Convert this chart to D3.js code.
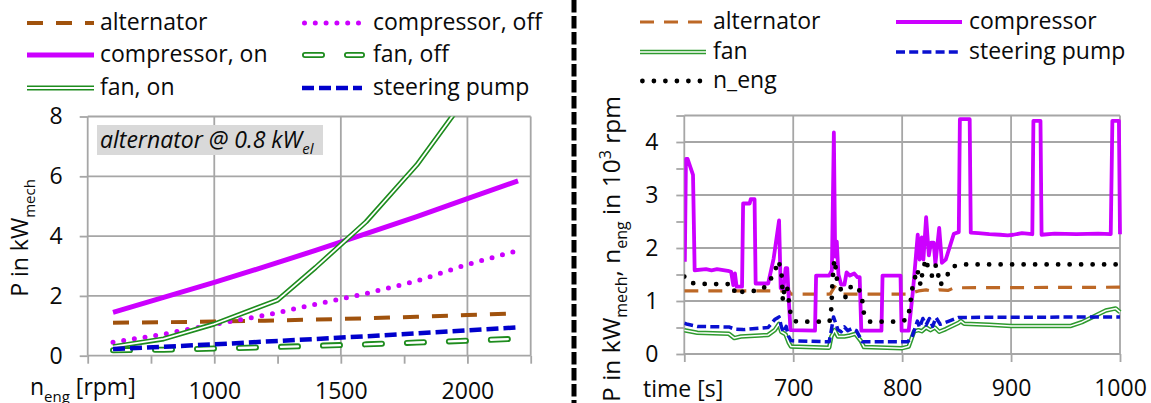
<!DOCTYPE html>
<html><head><meta charset="utf-8">
<script src="https://cdn.jsdelivr.net/npm/d3@7"></script>
<style>html,body{margin:0;padding:0;background:#fff;} svg{display:block;font-family:'Open Sans',sans-serif;}</style>
</head><body><svg id="c" width="1151" height="403"></svg>
<script>
// ---------- Left chart data (power vs engine speed) ----------
const rpm = [600,800,1000,1200,1400,1600,1800,2000,2200];
const alternatorL = [1.10,1.12,1.14,1.17,1.21,1.25,1.30,1.36,1.42];
const compressorOff = [0.45,0.72,1.05,1.35,1.72,2.08,2.50,3.05,3.52];
const compressorOn = [1.45,1.95,2.45,2.98,3.52,4.08,4.65,5.25,5.85];
const fanOff = [0.18,0.20,0.24,0.28,0.33,0.38,0.44,0.50,0.57];
const fanOnRpm = [600,800,1000,1250,1400,1600,1800,2000];
const fanOn = [0.30,0.56,1.06,1.86,2.95,4.48,6.38,8.70];
const steeringL = [0.22,0.30,0.38,0.47,0.56,0.65,0.75,0.85,0.95];
const rpmTickValues = [500,750,1000,1250,1500,1750,2000,2250];
const rpmTickLabels = [1000,1500,2000];
const powerTicks = [0,2,4,6,8];

// ---------- Right chart data (time series) ----------
const alternatorT = [[600,1.19],[696,1.19],[698,1.13],[734,1.13],[736,1.2],[738,1.27],[741,1.22],[744,1.18],[746,1.13],[806,1.13],[810,1.16],[815,1.19],[822,1.21],[828,1.18],[834,1.21],[842,1.2],[848,1.25],[1000,1.26]];
const compressorT = [[600.5,1.74],[601.5,3.68],[603,3.68],[608,3.38],[609.5,1.58],[620,1.6],[625,1.58],[630,1.6],[640,1.57],[643,1.55],[645,1.3],[646.5,1.52],[648,1.27],[653,1.27],[654,2.84],[660,2.84],[661,2.92],[664.5,2.92],[665.5,1.33],[677,1.33],[682,1.8],[687,2.52],[688.5,1.24],[691,1.22],[693,1.62],[694.5,1.62],[696,0.99],[697.5,0.45],[720,0.44],[721,1.48],[733,1.48],[735.5,1.58],[737.3,4.18],[738.5,1.84],[740,2.12],[741.5,1.5],[744,1.31],[747,1.31],[749,1.54],[752,1.48],[756,1.52],[759,1.45],[761,1.45],[762.5,0.44],[781,0.44],[782,1.48],[798.5,1.48],[799.5,0.44],[806,0.44],[810,1.21],[814.3,2.25],[816,1.78],[818,2.2],[819.5,1.78],[822,2.58],[824.5,1.86],[826.5,2.1],[829,2.1],[830.5,1.7],[834,2.38],[836.5,1.72],[840,1.78],[847.5,2.27],[852,2.3],[853,4.43],[862,4.43],[863,2.29],[870,2.28],[880,2.26],[890,2.25],[897,2.24],[902,2.25],[910,2.28],[919.5,2.26],[920.5,4.4],[927,4.4],[928,2.25],[940,2.27],[960,2.26],[980,2.27],[991.5,2.26],[993,4.4],[999,4.4],[1000,2.26]];
const fanT = [[600,0.45],[612,0.4],[641,0.38],[646,0.3],[652,0.33],[677,0.36],[683,0.45],[687,0.57],[689,0.42],[693,0.37],[696,0.21],[698,0.14],[733,0.12],[735,0.33],[738,0.45],[741,0.33],[747,0.33],[752,0.35],[757,0.38],[762,0.25],[765,0.13],[800,0.11],[806,0.14],[811,0.43],[815,0.45],[818,0.43],[822,0.5],[826,0.45],[830,0.5],[834,0.42],[840,0.47],[852,0.59],[854,0.62],[857,0.57],[880,0.55],[900,0.53],[955,0.53],[965,0.6],[975,0.7],[987,0.82],[996,0.86],[1000,0.79]];
const steeringT = [[600,0.58],[603,0.56],[612,0.52],[641,0.51],[646,0.47],[654,0.46],[677,0.5],[683,0.65],[687,0.7],[689,0.52],[691,0.41],[693.5,0.52],[695.5,0.34],[698,0.25],[733,0.23],[735,0.45],[737,0.7],[739,0.58],[741,0.46],[744,0.42],[747,0.51],[750,0.44],[754,0.48],[758,0.44],[763.5,0.23],[805,0.23],[809,0.32],[814,0.62],[816,0.5],[819,0.67],[822,0.55],[825,0.67],[828,0.52],[831,0.69],[835,0.56],[843,0.62],[852,0.69],[1000,0.7]];
const nEngT = [[600,1.46],[606,1.34],[620,1.32],[640,1.32],[645,1.17],[648,1.25],[651,1.17],[670,1.2],[676,1.3],[683,1.54],[686,1.76],[688,1.66],[689.5,1.46],[690.5,1.0],[691.5,1.17],[693,1.3],[694.5,1.25],[696,0.99],[697.5,0.77],[700.5,0.64],[703,0.61],[733,0.61],[734,0.65],[735,0.87],[736,1.34],[737,1.62],[737.8,1.78],[739,1.62],[740,1.43],[741,1.3],[744,1.21],[747.5,1.05],[751,1.24],[756,1.3],[762,1.17],[763.5,0.99],[765,0.75],[770,0.61],[799,0.61],[805,0.66],[807,0.87],[809.6,1.28],[812.6,1.5],[814,1.6],[815.5,1.41],[817,1.3],[819,1.6],[822,1.79],[824,1.6],[827.5,1.47],[831,1.68],[833,1.5],[835,1.3],[840.6,1.46],[846,1.65],[856,1.69],[1000,1.69]];
const timeTicks = [600,700,800,900,1000];
const timeTickLabels = [700,800,900,1000];
const rightYTicks = [0,0.5,1,1.5,2,2.5,3,3.5,4,4.5];
const rightYGrid = [0,1,2,3,4,4.5];

// ---------- styles ----------
const GRID = "#a6a6a6";
const FONT = 23;
const INK = "#0a0a0a";
const stL = {
  alternator: {color:"#a0520d", width:4, dash:"16 13"},
  compOff: {color:"#cc00ff", width:5, dash:"0 10.8", cap:"round"},
  compOn: {color:"#cc00ff", width:5},
  fanOff: {color:"#1e8c1e", width:6, dash:"17 25", cap:"round", inner:2.4},
  fanOn: {color:"#1e8c1e", width:5, inner:1.8},
  steering: {color:"#0000cc", width:4.5, dash:"12 5"}
};
const stR = {
  alternator: {color:"#bd6826", width:3.2, dash:"14 10"},
  compressor: {color:"#cc00ff", width:3.8},
  fan: {color:"#2e9a2e", width:4.5, inner:1.5},
  steering: {color:"#0a10d0", width:3.5, dash:"9 4.2"},
  nEng: {color:"#000", width:4.8, dash:"0 11.5", cap:"round"}
};

const svg = d3.select("#c");

function styled(g, d, s) {
  g.append("path").attr("d", d).attr("fill","none")
    .attr("stroke", s.color).attr("stroke-width", s.width)
    .attr("stroke-dasharray", s.dash || null)
    .attr("stroke-linecap", s.cap || "butt")
    .attr("stroke-linejoin", "round");
  if (s.inner) {
    g.append("path").attr("d", d).attr("fill","none")
      .attr("stroke", "#fff").attr("stroke-width", s.inner)
      .attr("stroke-dasharray", s.dash || null)
      .attr("stroke-linecap", s.cap || "butt")
      .attr("stroke-linejoin", "round");
  }
}

// ================= LEFT CHART =================
const xL = d3.scaleLinear().domain([500,2250]).range([87.7,530.7]);
const yL = d3.scaleLinear().domain([0,8]).range([355.7,116.5]);

const gL = svg.append("g");
gL.append("g").selectAll("line").data(powerTicks).join("line")
  .attr("x1", xL(500)).attr("x2", xL(2250)).attr("y1", d=>yL(d)).attr("y2", d=>yL(d))
  .attr("stroke", GRID).attr("stroke-width", 1.8);
gL.append("g").selectAll("line").data([500,1000,1500,2000,2250]).join("line")
  .attr("x1", d=>xL(d)).attr("x2", d=>xL(d)).attr("y1", yL(0)).attr("y2", yL(8))
  .attr("stroke", GRID).attr("stroke-width", 1.8);

const axBL = gL.append("g").attr("transform", `translate(0,${yL(0)})`)
  .call(d3.axisBottom(xL).tickValues(rpmTickValues).tickSize(8).tickPadding(19)
    .tickFormat(d => rpmTickLabels.includes(d) ? d : ""));
const axLL = gL.append("g").attr("transform", `translate(${xL(500)},0)`)
  .call(d3.axisLeft(yL).tickValues(powerTicks).tickSize(8).tickPadding(17).tickFormat(d3.format("d")));
[axBL, axLL].forEach(a => {
  a.select(".domain").remove();
  a.selectAll(".tick line").attr("stroke", GRID).attr("stroke-width", 1.8);
  a.selectAll(".tick text").attr("font-size", FONT).attr("font-family", "'Open Sans',sans-serif").attr("fill", INK);
});

gL.append("rect").attr("x", 97).attr("y", 125).attr("width", 226).attr("height", 30).attr("fill", "#d9d9d9");
const ann = gL.append("text").attr("x", 100).attr("y", 148).attr("font-size", FONT).attr("font-style", "italic").attr("fill", INK);
ann.append("tspan").text("alternator @ 0.8 kW");
ann.append("tspan").attr("dy", 6).attr("font-size", 15).text("el");

svg.append("clipPath").attr("id", "clipL").append("rect")
  .attr("x", xL(500)).attr("y", yL(8)).attr("width", xL(2250)-xL(500)).attr("height", yL(0)-yL(8));
const pL = gL.append("g").attr("clip-path", "url(#clipL)");
const lineL = d3.line().x(d=>xL(d[0])).y(d=>yL(d[1]));
const zipL = (xs, vs) => xs.map((x,i)=>[x, vs[i]]);
styled(pL, lineL(zipL(rpm, alternatorL)), stL.alternator);
styled(pL, lineL(zipL(rpm, compressorOff)), stL.compOff);
styled(pL, lineL(zipL(rpm, compressorOn)), stL.compOn);
styled(pL, lineL(zipL(rpm, fanOff)), stL.fanOff);
styled(pL, lineL(zipL(fanOnRpm, fanOn)), stL.fanOn);
styled(pL, lineL(zipL(rpm, steeringL)), stL.steering);

const xtL = gL.append("text").attr("x", 30).attr("y", 395).attr("font-size", FONT).attr("fill", INK);
xtL.append("tspan").text("n");
xtL.append("tspan").attr("dy", 7).attr("font-size", 15).text("eng");
xtL.append("tspan").attr("dy", -7).text(" [rpm]");
const ytL = gL.append("text").attr("transform", "translate(28,238) rotate(-90)").attr("text-anchor", "middle").attr("font-size", FONT).attr("fill", INK);
ytL.append("tspan").text("P in kW");
ytL.append("tspan").attr("dy", 7).attr("font-size", 15).text("mech");

const legL = [
  {label:"alternator", s:stL.alternator, x:27, y:23},
  {label:"compressor, off", s:stL.compOff, x:302, y:23},
  {label:"compressor, on", s:stL.compOn, x:27, y:55},
  {label:"fan, off", s:stL.fanOff, x:302, y:55},
  {label:"fan, on", s:stL.fanOn, x:27, y:88},
  {label:"steering pump", s:stL.steering, x:302, y:88}
];
legL.forEach(l => {
  const w = l.x < 100 ? 67 : 60;
  const off = l.s === stL.fanOff ? 3 : (l.s === stL.compOff ? 2.5 : 0);
  styled(gL, `M${l.x+off},${l.y}H${l.x+w}`, l.s);
  gL.append("text").attr("x", l.x + w + (l.x<100?6:11)).attr("y", l.y + 7).attr("font-size", FONT).attr("fill", INK).text(l.label);
});

// ================= divider =================
svg.append("line").attr("x1", 574).attr("x2", 574).attr("y1", 0).attr("y2", 403)
  .attr("stroke", "#000").attr("stroke-width", 5).attr("stroke-dasharray", "12.5 3.5");

// ================= RIGHT CHART =================
const xR = d3.scaleLinear().domain([600,1000]).range([684.3,1120]);
const yR = d3.scaleLinear().domain([0,4.5]).range([354,115.5]);
const gR = svg.append("g");
gR.append("g").selectAll("line").data(rightYGrid).join("line")
  .attr("x1", xR(600)).attr("x2", xR(1000)).attr("y1", d=>yR(d)).attr("y2", d=>yR(d))
  .attr("stroke", GRID).attr("stroke-width", 1.8);
gR.append("g").selectAll("line").data(timeTicks).join("line")
  .attr("x1", d=>xR(d)).attr("x2", d=>xR(d)).attr("y1", yR(0)).attr("y2", yR(4.5))
  .attr("stroke", GRID).attr("stroke-width", 1.8);
const axBR = gR.append("g").attr("transform", `translate(0,${yR(0)})`)
  .call(d3.axisBottom(xR).tickValues(timeTicks).tickSize(8).tickPadding(18)
    .tickFormat(d => timeTickLabels.includes(d) ? d : ""));
const axLR = gR.append("g").attr("transform", `translate(${xR(600)},0)`)
  .call(d3.axisLeft(yR).tickValues(rightYTicks).tickSize(8).tickPadding(18)
    .tickFormat(d => (Number.isInteger(d)) ? d : ""));
[axBR, axLR].forEach(a => {
  a.select(".domain").remove();
  a.selectAll(".tick line").attr("stroke", GRID).attr("stroke-width", 1.8);
  a.selectAll(".tick text").attr("font-size", FONT).attr("font-family", "'Open Sans',sans-serif").attr("fill", INK);
});

svg.append("clipPath").attr("id", "clipR").append("rect")
  .attr("x", xR(600)).attr("y", yR(4.5)-3).attr("width", xR(1000)-xR(600)+2).attr("height", yR(0)-yR(4.5)+3);
const pR = gR.append("g").attr("clip-path", "url(#clipR)");
const lineR = d3.line().x(d=>xR(d[0])).y(d=>yR(d[1]));
styled(pR, lineR(alternatorT), stR.alternator);
styled(pR, lineR(compressorT), stR.compressor);
styled(pR, lineR(fanT), stR.fan);
styled(pR, lineR(steeringT), stR.steering);
styled(pR, lineR(nEngT), stR.nEng);

gR.append("text").attr("x", 643).attr("y", 397).attr("font-size", FONT).attr("fill", INK).text("time [s]");
const ytR = gR.append("text").attr("transform", "translate(620,249) rotate(-90)").attr("text-anchor", "middle").attr("font-size", 24.5).attr("fill", INK);
ytR.append("tspan").text("P in kW");
ytR.append("tspan").attr("dy", 7).attr("font-size", 16).text("mech");
ytR.append("tspan").attr("dy", -7).text(", n");
ytR.append("tspan").attr("dy", 7).attr("font-size", 16).text("eng");
ytR.append("tspan").attr("dy", -7).text(" in 10");
ytR.append("tspan").attr("dy", -9).attr("font-size", 16).text("3");
ytR.append("tspan").attr("dy", 9).text(" rpm");

const legR = [
  {label:"alternator", s:stR.alternator, x:640, y:22},
  {label:"compressor", s:stR.compressor, x:896, y:22},
  {label:"fan", s:stR.fan, x:640, y:52},
  {label:"steering pump", s:stR.steering, x:896, y:52},
  {label:"n_eng", s:stR.nEng, x:640, y:81}
];
legR.forEach(l => {
  const off = l.s === stR.nEng ? 2.4 : 0;
  styled(gR, `M${l.x+off},${l.y}H${l.x+66}`, l.s);
  gR.append("text").attr("x", l.x + 73).attr("y", l.y + 7).attr("font-size", FONT).attr("fill", INK).text(l.label);
});
</script></body></html>
